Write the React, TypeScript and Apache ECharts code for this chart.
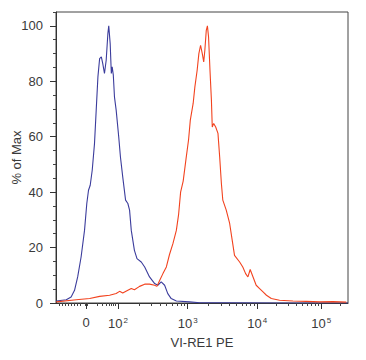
import React, { useEffect, useRef } from "react";
import * as echarts from "echarts";

// x positions are display channels (0–1024) of the biexponential scale
const blueX = [1, 36, 53, 65, 76, 88, 100, 108, 114, 120, 127, 135, 141, 147, 153, 159, 164, 170, 176, 182, 185, 190, 194, 197, 201, 205, 211, 220, 226, 234, 244, 252, 258, 264, 275, 284, 299, 311, 328, 346, 357, 369, 381, 392, 404, 422, 468, 504, 600, 800, 1024];
const blueY = [0.7, 1.2, 2.2, 4.6, 9.4, 16.6, 26.2, 35.9, 40.7, 42.5, 47.9, 57.5, 69.6, 81.6, 88.2, 88.8, 86.4, 82.8, 87.6, 97.3, 100, 93.6, 82.8, 85.2, 82.2, 74.4, 69.6, 59.9, 52.7, 45.5, 37.1, 35.9, 33.5, 26.2, 19, 16, 14.8, 13, 9.4, 7, 6.4, 7.6, 6.4, 3.4, 1.6, 0.7, 0.4, 0.1, 0.1, 0, 0];

const redX = [1, 71, 118, 153, 188, 211, 223, 234, 252, 264, 275, 293, 311, 328, 346, 354, 363, 375, 387, 398, 410, 422, 430, 437, 446, 456, 465, 471, 481, 487, 495, 501, 507, 513, 518, 522, 527, 531, 535, 540, 545, 548, 553, 560, 568, 574, 580, 585, 597, 609, 618, 626, 644, 655, 665, 673, 681, 691, 702, 714, 726, 738, 755, 784, 831, 878, 925, 971, 1018];
const redY = [0.4, 1.2, 1.6, 2.4, 2.8, 3.4, 4.2, 3.6, 4.6, 5.2, 4.8, 6.0, 6.8, 6.8, 6.4, 6.0, 8.0, 10.6, 13, 17.5, 21.4, 26.2, 32, 40, 44, 52, 59, 66, 72, 78, 84, 90, 93, 90, 87, 91.2, 98.4, 100, 96, 84, 73.2, 63.5, 64.8, 63.5, 61.2, 52.7, 43.1, 37.1, 33.5, 28.7, 22.6, 17.2, 14.8, 13, 10.6, 9.4, 12.1, 9.4, 6.4, 5.2, 4, 2.8, 1.6, 1.0, 0.7, 0.6, 0.4, 0.5, 0.3];

// axis calibration: channel of each labelled tick
const majorTickCh = [106, 217, 462, 706, 930];
const majorTickLabels = ["0", "10^2", "10^3", "10^4", "10^5"];
const linearRegionMinorCh = [12, 23, 33, 44, 54, 65, 75, 86, 102, 110, 146, 163, 177, 188, 195, 202, 209];
const yMajorTicks = [0, 20, 40, 60, 80, 100];

const BLUE = "#3b3c9c";
const RED = "#f2431f";
const TEXT = "#3a3a3a";
const FONT = "Liberation Sans";

function decadeMinors(): number[] {
  const out: number[] = [];
  for (let i = 1; i < majorTickCh.length; i++) {
    const a = majorTickCh[i];
    const prev = majorTickCh[i - 1];
    const next = i + 1 < majorTickCh.length ? majorTickCh[i + 1] : null;
    const span = next !== null ? next - a : a - prev;
    for (let k = 2; k <= 9; k++) {
      const c = a + Math.log10(k) * span;
      if (c < 1024) out.push(Math.round(c));
    }
  }
  return out;
}

function labelFor(v: number): string {
  const i = majorTickCh.indexOf(v);
  if (i < 0) return "";
  const t = majorTickLabels[i];
  if (t.indexOf("^") < 0) return "{n|" + t + "}";
  const [b, e] = t.split("^");
  return "{n|" + b + "}{s|" + e + "}";
}

export default function App() {
  const ref = useRef<HTMLDivElement>(null);
  useEffect(() => {
    if (!ref.current) return;
    const chart = echarts.init(ref.current, undefined, { renderer: "svg" });
    const minorX = linearRegionMinorCh.concat(decadeMinors());
    const minorY: number[] = [];
    for (let v = 5; v <= 105; v += 5) if (v % 20 !== 0) minorY.push(v);
    chart.setOption({
      animation: false,
      textStyle: { fontFamily: FONT },
      grid: {
        left: 56,
        right: 18,
        top: 12,
        bottom: 57,
        show: true,
        borderColor: "#444",
        borderWidth: 1,
        containLabel: false,
        outerBoundsMode: "none",
      },
      xAxis: [
        {
          type: "value",
          min: 0,
          max: 1024,
          position: "bottom",
          axisLine: { show: true, lineStyle: { color: "#333", width: 1 } },
          axisTick: { show: true, length: 6, customValues: majorTickCh, lineStyle: { color: "#333" } },
          axisLabel: {
            customValues: majorTickCh,
            formatter: (v: number) => labelFor(v),
            margin: 13,
            color: TEXT,
            rich: {
              n: { fontSize: 13, fontFamily: FONT, color: TEXT },
              s: { fontSize: 8, fontFamily: FONT, color: TEXT, padding: [0, 0, 7, 1] },
            },
          },
          splitLine: { show: false },
          name: "VI-RE1 PE",
          nameLocation: "middle",
          nameGap: 33,
          nameMoveOverlap: false,
          nameTextStyle: { fontSize: 13, color: TEXT, fontFamily: FONT },
        },
        {
          type: "value",
          min: 0,
          max: 1024,
          position: "bottom",
          axisLine: { show: false },
          axisTick: { show: true, length: 3, customValues: minorX, lineStyle: { color: "#444" } },
          axisLabel: { show: false },
          splitLine: { show: false },
        },
      ],
      yAxis: [
        {
          type: "value",
          min: 0,
          max: 105,
          position: "left",
          axisLine: { show: true, lineStyle: { color: "#333", width: 1 } },
          axisTick: { show: true, length: 6, customValues: yMajorTicks, lineStyle: { color: "#333" } },
          axisLabel: { customValues: yMajorTicks, fontSize: 13, color: TEXT, margin: 13, fontFamily: FONT },
          splitLine: { show: false },
          name: "% of Max",
          nameLocation: "middle",
          nameRotate: 90,
          nameGap: 33,
          nameMoveOverlap: false,
          nameTextStyle: { fontSize: 13, color: TEXT, fontFamily: FONT },
        },
        {
          type: "value",
          min: 0,
          max: 105,
          position: "left",
          axisLine: { show: false },
          axisTick: { show: true, length: 3, customValues: minorY, lineStyle: { color: "#444" } },
          axisLabel: { show: false },
          splitLine: { show: false },
        },
      ],
      series: [
        {
          type: "line",
          xAxisIndex: 0,
          yAxisIndex: 0,
          data: blueX.map((x, i) => [x, blueY[i]]),
          showSymbol: false,
          symbol: "none",
          lineStyle: { color: BLUE, width: 1.1 },
          z: 2,
        },
        {
          type: "line",
          xAxisIndex: 0,
          yAxisIndex: 0,
          data: redX.map((x, i) => [x, redY[i]]),
          showSymbol: false,
          symbol: "none",
          lineStyle: { color: RED, width: 1.1 },
          z: 3,
        },
      ],
    });
    return () => chart.dispose();
  }, []);
  return <div ref={ref} style={{ width: 366, height: 360, margin: -8 }} />;
}
